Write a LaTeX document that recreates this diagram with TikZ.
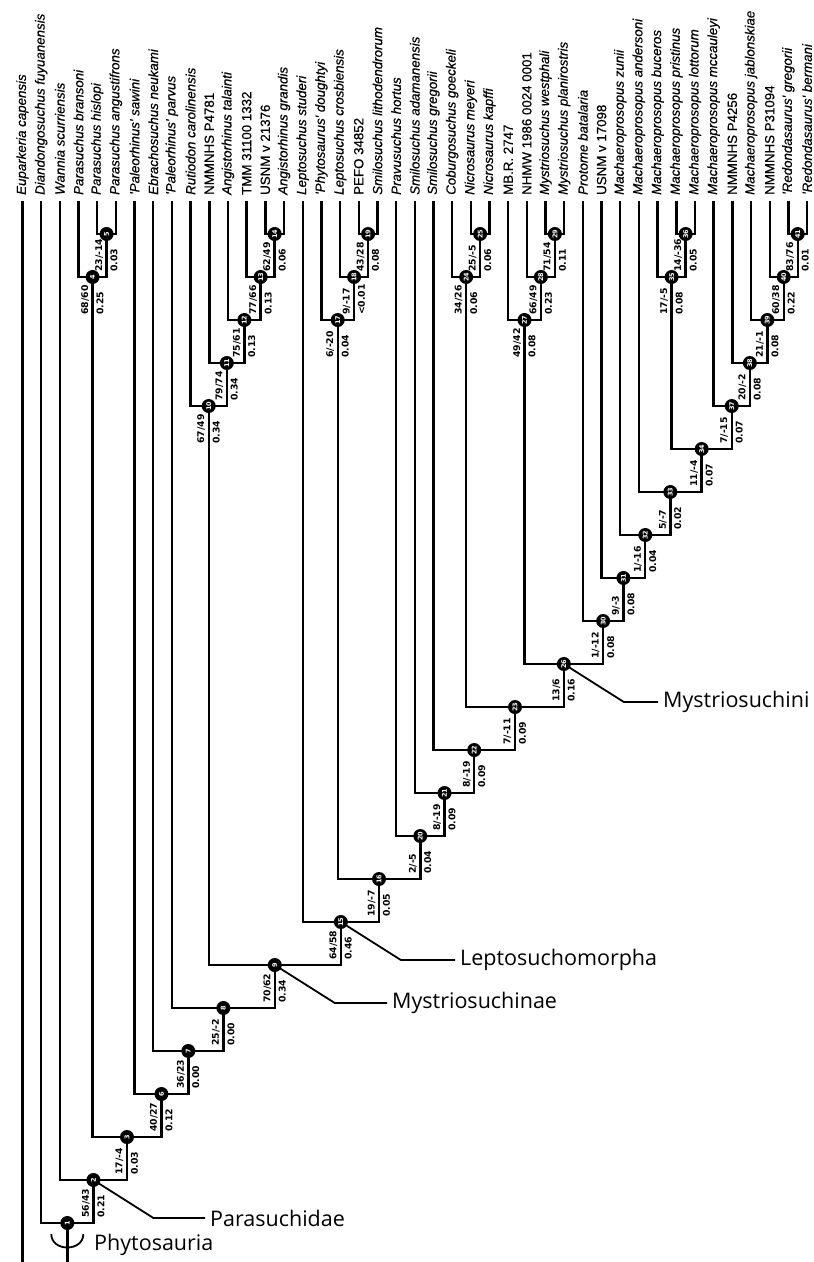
\documentclass[tikz,border=0pt]{standalone}
\usepackage{fontspec}
\newfontfamily\nf{Liberation Sans}[FakeBold=0.5]
\newfontfamily\lf{DejaVu Sans}
\newfontfamily\cf{Open Sans}
\usetikzlibrary{calc}
\tikzset{
 br/.style={line width=2.4pt},
 cl/.style={line width=1.8pt},
 nd/.style={circle, fill=black, draw=none, minimum size=14pt, inner sep=0pt, text=white, font=\lf\bfseries\fontsize{6.5}{6.5}\selectfont, rotate=90},
 sl/.style={rotate=90, anchor=west, inner sep=0pt, font=\lf\bfseries\fontsize{9.3}{9.3}\selectfont},
 tx/.style={rotate=90, anchor=west, inner sep=0pt, font=\nf\fontsize{13.3}{13.3}\selectfont},
 clab/.style={anchor=west, inner sep=0pt, font=\cf\fontsize{21.5}{24}\selectfont},
}
% internal node: name, child a, child b, height level
\newcommand\inode[4]{%
 \path let \p1=($(#2)!0.5!(#3)$) in coordinate (#1) at (\x1,{-(234+43*(#4-1))*1pt});
 \draw[br] (#2) |- (#1) -| (#3);}
\newcommand\sv[3]{%
 \node[sl] (s#1) at ($(c#1)+(-7.5,38)$) {#2};
 \node[sl] (b#1) at ($(c#1)+(7.5,38)$) {#3};}
\begin{document}
\begin{tikzpicture}[x=1pt,y=-1pt]
\useasboundingbox (0,0) rectangle (814,1262);
\foreach \i/\nm/\st in {
 1/Euparkeria capensis/\itshape,
 2/Diandongosuchus fuyuanensis/\itshape,
 3/Wannia scurriensis/\itshape,
 4/Parasuchus bransoni/\itshape,
 5/Parasuchus hislopi/\itshape,
 6/Parasuchus angustifrons/\itshape,
 7/'Paleorhinus' sawini/\itshape,
 8/Ebrachosuchus neukami/\itshape,
 9/'Paleorhinus' parvus/\itshape,
 10/Rutiodon carolinensis/\itshape,
 11/NMMNHS P4781/\upshape,
 12/Angistorhinus talainti/\itshape,
 13/TMM 31100 1332/\upshape,
 14/USNM v 21376/\upshape,
 15/Angistorhinus grandis/\itshape,
 16/Leptosuchus studeri/\itshape,
 17/'Phytosaurus' doughtyi/\itshape,
 18/Leptosuchus crosbiensis/\itshape,
 19/PEFO 34852/\upshape,
 20/Smilosuchus lithodendrorum/\itshape,
 21/Pravusuchus hortus/\itshape,
 22/Smilosuchus adamanensis/\itshape,
 23/Smilosuchus gregorii/\itshape,
 24/Coburgosuchus goeckeli/\itshape,
 25/Nicrosaurus meyeri/\itshape,
 26/Nicrosaurus kapffi/\itshape,
 27/MB.R. 2747/\upshape,
 28/NHMW 1986 0024 0001/\upshape,
 29/Mystriosuchus westphali/\itshape,
 30/Mystriosuchus planirostris/\itshape,
 31/Protome batalaria/\itshape,
 32/USNM v 17098/\upshape,
 33/Machaeroprosopus zunii/\itshape,
 34/Machaeroprosopus andersoni/\itshape,
 35/Machaeroprosopus buceros/\itshape,
 36/Machaeroprosopus pristinus/\itshape,
 37/Machaeroprosopus lottorum/\itshape,
 38/Machaeroprosopus mccauleyi/\itshape,
 39/NMMNHS P4256/\upshape,
 40/Machaeroprosopus jablonskiae/\itshape,
 41/NMMNHS P31094/\upshape,
 42/'Redondasaurus' gregorii/\itshape,
 43/'Redondasaurus' bermani/\itshape}{
 \pgfmathsetmacro\xx{22.5+18.68*(\i-1)}
 \coordinate (t\i) at (\xx,201);
 \node[tx] (L\i) at (\xx,195) {\st\nm};
}
% tree
\inode{c41}{t42}{t43}{1}
\inode{c40}{t41}{c41}{2}
\inode{c39}{t40}{c40}{3}
\inode{c38}{t39}{c39}{4}
\inode{c37}{t38}{c38}{5}
\inode{c36}{t36}{t37}{1}
\inode{c35}{t35}{c36}{2}
\inode{c34}{c35}{c37}{6}
\inode{c33}{t34}{c34}{7}
\inode{c32}{t33}{c33}{8}
\inode{c31}{t32}{c32}{9}
\inode{c30}{t31}{c31}{10}
\inode{c29}{t29}{t30}{1}
\inode{c28}{t28}{c29}{2}
\inode{c27}{t27}{c28}{3}
\inode{c26}{c27}{c30}{11}
\inode{c25}{t25}{t26}{1}
\inode{c24}{t24}{c25}{2}
\inode{c23}{c24}{c26}{12}
\inode{c22}{t23}{c23}{13}
\inode{c21}{t22}{c22}{14}
\inode{c20}{t21}{c21}{15}
\inode{c19}{t19}{t20}{1}
\inode{c18}{t18}{c19}{2}
\inode{c17}{t17}{c18}{3}
\inode{c16}{c17}{c20}{16}
\inode{c15}{t16}{c16}{17}
\inode{c14}{t14}{t15}{1}
\inode{c13}{t13}{c14}{2}
\inode{c12}{t12}{c13}{3}
\inode{c11}{t11}{c12}{4}
\inode{c10}{t10}{c11}{5}
\inode{c9}{c10}{c15}{18}
\inode{c8}{t9}{c9}{19}
\inode{c7}{t8}{c8}{20}
\inode{c6}{t7}{c7}{21}
\inode{c5}{t5}{t6}{1}
\inode{c4}{t4}{c5}{2}
\inode{c3}{c4}{c6}{22}
\inode{c2}{t3}{c3}{23}
\inode{c1}{t2}{c2}{24}
% outgroup and stem
\coordinate (e1) at (22.5,1262);
\draw[br] (t1) -- (e1);
\coordinate (e2) at (c1 |- e1);
\draw[br] (c1) -- (e2);
\draw[cl] ($(c1)+(-16,11)$) .. controls +(0,18) and +(0,18) .. ($(c1)+(16,11)$);
% clade labels
\node[clab] (Lphy) at (94,1245) {Phytosauria};
\node[clab] (Lpar) at (210,1218) {Parasuchidae};
\node[clab] (Lmys) at (392,1003) {Mystriosuchinae};
\node[clab] (Llep) at (460,960) {Leptosuchomorpha};
\node[clab] (Lmyi) at (663,702) {Mystriosuchini};
\draw[cl] (c2) -- ($(c2)+(60,38)$) -- ([xshift=-5pt]Lpar.west);
\draw[cl] (c9) -- ($(c9)+(60,38)$) -- ([xshift=-5pt]Lmys.west);
\draw[cl] (c15) -- ($(c15)+(60,38)$) -- ([xshift=-5pt]Llep.west);
\draw[cl] (c26) -- ($(c26)+(60,38)$) -- ([xshift=-5pt]Lmyi.west);
% node circles
\foreach \k in {1,...,41}{\node[nd] (n\k) at (c\k) {\k};}
% support values
\sv{2}{56/43}{0.21}
\sv{3}{17/-4}{0.03}
\sv{4}{68/60}{0.25}
\sv{5}{23/-14}{0.03}
\sv{6}{40/27}{0.12}
\sv{7}{36/23}{0.00}
\sv{8}{25/-2}{0.00}
\sv{9}{70/62}{0.34}
\sv{10}{67/49}{0.34}
\sv{11}{79/74}{0.34}
\sv{12}{75/61}{0.13}
\sv{13}{77/66}{0.13}
\sv{14}{62/49}{0.06}
\sv{15}{64/58}{0.46}
\sv{16}{19/-7}{0.05}
\sv{17}{6/-20}{0.04}
\sv{18}{9/-17}{<0.01}
\sv{19}{43/28}{0.08}
\sv{20}{2/-5}{0.04}
\sv{21}{8/-19}{0.09}
\sv{22}{8/-19}{0.09}
\sv{23}{7/-11}{0.09}
\sv{24}{34/26}{0.06}
\sv{25}{25/-5}{0.06}
\sv{26}{13/6}{0.16}
\sv{27}{49/42}{0.08}
\sv{28}{66/49}{0.23}
\sv{29}{71/54}{0.11}
\sv{30}{1/-12}{0.08}
\sv{31}{9/-3}{0.08}
\sv{32}{1/-16}{0.04}
\sv{33}{5/-7}{0.02}
\sv{34}{11/-4}{0.07}
\sv{35}{17/-5}{0.08}
\sv{36}{14/-36}{0.05}
\sv{37}{7/-15}{0.07}
\sv{38}{20/-2}{0.08}
\sv{39}{21/-1}{0.08}
\sv{40}{60/38}{0.22}
\sv{41}{83/76}{0.01}
\end{tikzpicture}
\end{document}
